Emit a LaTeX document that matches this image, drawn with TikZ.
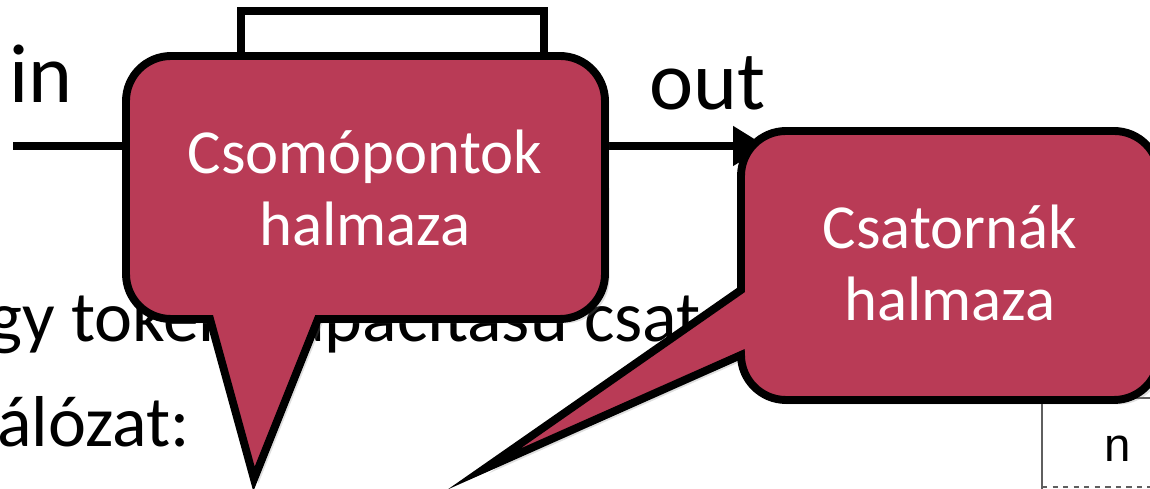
\documentclass[tikz,border=0pt]{standalone}
\usepackage{fontspec}
\setmainfont{Carlito}
\newfontfamily\tablefont{Liberation Sans}
\usepackage{xcolor}
\usetikzlibrary{arrows.meta,shadows}
\definecolor{calloutred}{RGB}{185, 59, 86}
\definecolor{tablegray}{RGB}{95, 95, 95}

\begin{document}
\begin{tikzpicture}[x=0.02cm, y=0.02cm, >=stealth,
        callout/.style={draw=black, line width=4.5pt, fill=calloutred, miter limit=20,
            drop shadow={shadow xshift=0.09cm, shadow yshift=-0.09cm, opacity=0.25}},
        callouttext/.style={text=white, align=center, inner sep=0pt, font=\fontsize{35.7}{41.4}\selectfont},
        slidetext/.style={anchor=base west, inner sep=0pt, font=\fontsize{41}{49}\selectfont},
        flowlabel/.style={anchor=base west, inner sep=0pt, font=\fontsize{47.6}{57}\selectfont}]
        \useasboundingbox (0, 0) rectangle (1150, 489);
        \clip (0, 0) rectangle (1150, 489);

        % Slide text behind the callouts
        \node[slidetext] (line1) at (-12, 147) {gy token-kapacitású csat};
        \node[slidetext] (line2) at (-3, 42) {álózat:};

        % Table corner
        \draw[tablegray, line width=1pt] (1042, 91) -- (1042, -5);
        \draw[tablegray, line width=1pt] (1042, 91) -- (1160, 91);
        \draw[tablegray, line width=1pt, dashed] (1042, 2) -- (1160, 2);
        \node[anchor=base, inner sep=0pt, font=\tablefont\fontsize{27}{32}\selectfont] (cell) at (1118, 27) {n};

        % Node with its input and output channel
        \coordinate (inend) at (13, 343);
        \coordinate (outend) at (766, 343);
        \node[draw, line width=4.5pt, minimum width=6.06cm, minimum height=5.4cm, inner sep=0pt] (proc) at (392.5, 343) {};
        \draw[line width=4.5pt] (inend) -- (proc.west);
        \draw[line width=4.5pt, -{Triangle[length=0.66cm, width=0.76cm]}] (proc.east) -- (outend);
        \node[flowlabel] (inlabel) at (9, 386) {in};
        \node[flowlabel] (outlabel) at (649, 379) {out};

        % Callout: set of nodes
        \draw[callout] (171, 433) -- (560, 433) arc[start angle=90, end angle=0, radius=0.9cm]
            -- (605, 215) arc[start angle=0, end angle=-90, radius=0.9cm]
            -- (318, 170) -- (254, 10) -- (210, 170)
            -- (171, 170) arc[start angle=270, end angle=180, radius=0.9cm]
            -- (126, 388) arc[start angle=180, end angle=90, radius=0.9cm] -- cycle;
        \node[callouttext] (nodeset) at (365, 301) {Csomópontok\\halmaza};

        % Callout: set of channels
        \draw[callout] (786, 358) -- (1114, 358) arc[start angle=90, end angle=0, radius=0.9cm]
            -- (1159, 134) arc[start angle=0, end angle=-90, radius=0.9cm]
            -- (786, 89) arc[start angle=270, end angle=180, radius=0.9cm]
            -- (484, 20) -- (741, 199)
            -- (741, 313) arc[start angle=180, end angle=90, radius=0.9cm] -- cycle;
        \node[callouttext] (chanset) at (950, 226) {Csatornák\\halmaza};
    \end{tikzpicture}
\end{document}
